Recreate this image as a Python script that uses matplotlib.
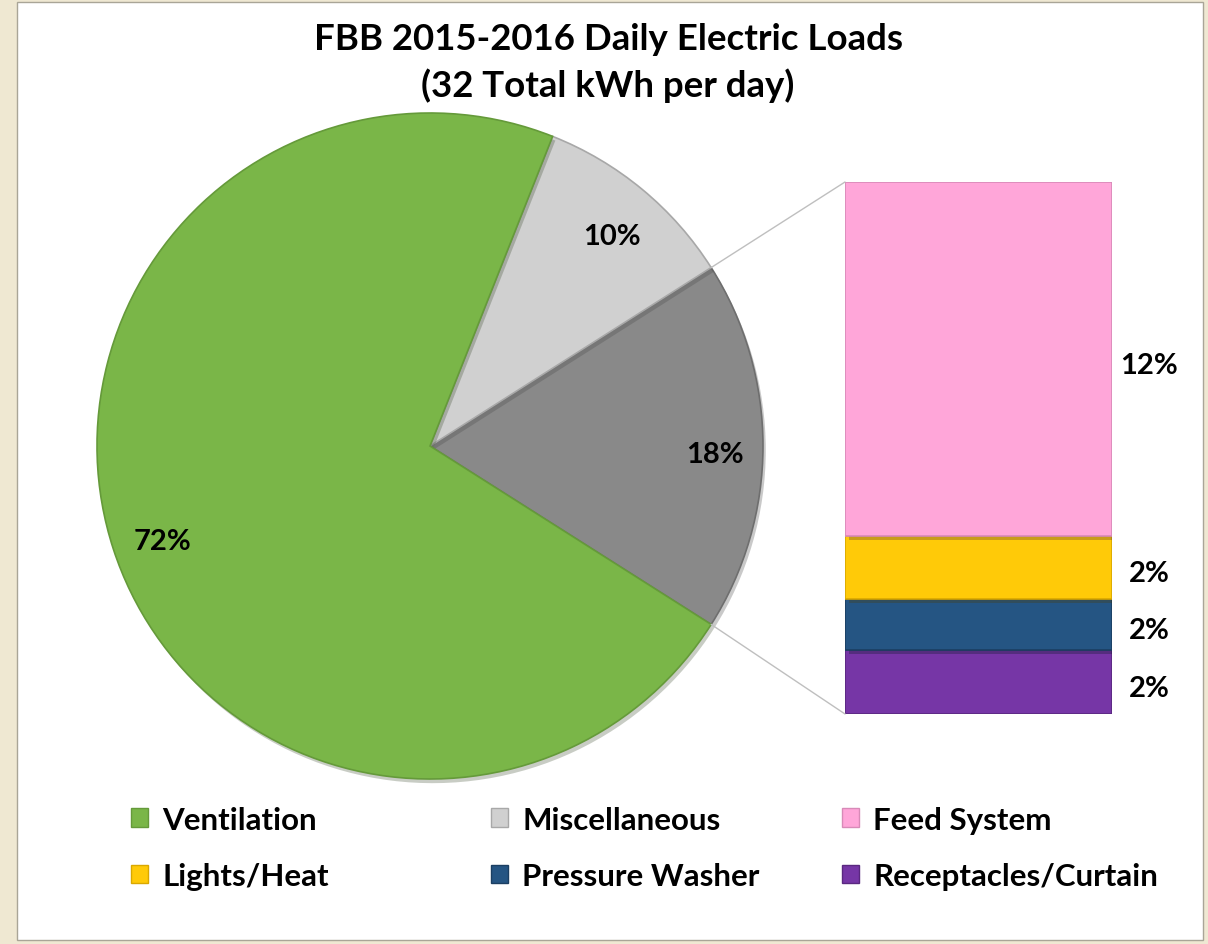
import numpy as np
import matplotlib.pyplot as plt
from matplotlib.patches import Rectangle, Patch, ConnectionPatch
import matplotlib.patheffects as pe
import matplotlib.transforms as mtrans

# pie slices (counter-clockwise from the right-hand "other" slice)
pie_labels = ["Other", "Miscellaneous", "Ventilation"]
pie_values = [18, 10, 72]
pie_colors = ["#898989", "#D0D0D0", "#7AB648"]
pie_edges = ["#6E6E6E", "#A8A8A8", "#659A3A"]
pie_text = ["18%", "10%", "72%"]

# breakdown of "Other" (bottom to top)
bar_labels = ["Receptacles/Curtain", "Pressure Washer", "Lights/Heat", "Feed System"]
bar_values = [2.16, 1.72, 2.13, 11.97]
bar_colors = ["#7636A6", "#255583", "#FFCA08", "#FFA6D9"]
bar_edges = ["#5A2880", "#1B3F62", "#D9A800", "#D88AB8"]
bar_text = ["2%", "2%", "2%", "12%"]

title = "FBB 2015-2016 Daily Electric Loads\n(32 Total kWh per day)"

plt.rcParams['font.family'] = ['Lato', 'DejaVu Sans']
plt.rcParams['font.weight'] = 'bold'

W, H = 1208, 945
fig = plt.figure(figsize=(W / 100, H / 100), dpi=100, facecolor="#EFE8D2")

# white panel
fig.patches.append(Rectangle((17 / W, 1 - 941 / H), 1186 / W, 938 / H,
                             transform=fig.transFigure, facecolor="white",
                             edgecolor="#A9A597", linewidth=1.0, zorder=-10))

# pie axes
cx, cy, r = 430, 447, 333
ax_pie = fig.add_axes([(cx - r) / W, (H - cy - r) / H, 2 * r / W, 2 * r / H])
ax_pie.patch.set_visible(False)
ang = pie_values[0] / 100 * 360
wedges, _, autotexts = ax_pie.pie(
    pie_values, colors=pie_colors, startangle=-ang / 2, counterclock=True,
    autopct=lambda p: "", pctdistance=0.85, radius=1,
    wedgeprops=dict(linewidth=1.2))
for w, ec in zip(wedges, pie_edges):
    w.set_edgecolor(ec)
    w.set_path_effects([pe.SimplePatchShadow(offset=(2, -3), alpha=0.25), pe.Normal()])
shift = mtrans.offset_copy(ax_pie.transData, fig=fig, x=2, y=-8, units='dots')
for t, s in zip(autotexts, pie_text):
    t.set_text(s)
    t.set_fontsize(21)
    t.set_fontweight('bold')
    t.set_color('black')
    t.set_transform(shift)
ax_pie.set_xlim(-1, 1)
ax_pie.set_ylim(-1, 1)
ax_pie.set_aspect('equal')
ax_pie.axis('off')

# bar axes
bx0, bx1, by0, by1 = 845, 1112, 183, 715
ax_bar = fig.add_axes([bx0 / W, (H - by1) / H, (bx1 - bx0) / W, (by1 - by0) / H])
ax_bar.patch.set_visible(False)
bottom = 0
for v, c, ec, s in zip(bar_values, bar_colors, bar_edges, bar_text):
    b = ax_bar.bar(0, v, width=1, bottom=bottom, color=c, edgecolor=ec, linewidth=1.2)
    b[0].set_path_effects([pe.SimplePatchShadow(offset=(3, -3), alpha=0.3), pe.Normal()])
    ax_bar.annotate(s, xy=(0.5, bottom + v / 2), xytext=(27, -4), textcoords='offset points',
                    ha='center', va='center', fontsize=21, fontweight='bold')
    bottom += v
ax_bar.set_xlim(-0.5, 0.5)
ax_bar.set_ylim(0, sum(bar_values))
ax_bar.axis('off')

# connector lines
theta1, theta2 = wedges[0].theta1, wedges[0].theta2
for th, yb in [(theta2, sum(bar_values)), (theta1, 0)]:
    x = np.cos(np.radians(th))
    y = np.sin(np.radians(th))
    con = ConnectionPatch(xyA=(-0.5, yb), coordsA=ax_bar.transData,
                          xyB=(x, y), coordsB=ax_pie.transData,
                          color="#BFBFBF", linewidth=1.0)
    fig.add_artist(con)

fig.text(608 / W, 1 - 63 / H, title, ha='center', va='center', fontsize=26.4,
         fontweight='bold', linespacing=1.42)

# legend: three single-column blocks, rows read Ventilation/Misc/Feed, Lights/Pressure/Receptacles
handle = {}
for l, c, ec in zip(pie_labels, pie_colors, pie_edges):
    handle[l] = Patch(facecolor=c, edgecolor=ec, label=l)
for l, c, ec in zip(bar_labels, bar_colors, bar_edges):
    handle[l] = Patch(facecolor=c, edgecolor=ec, label=l)
columns = [["Ventilation", "Lights/Heat"],
           ["Miscellaneous", "Pressure Washer"],
           ["Feed System", "Receptacles/Curtain"]]
col_x = [131, 491, 842]
for keys, x0 in zip(columns, col_x):
    fig.legend([handle[k] for k in keys], keys, loc='center left',
               bbox_to_anchor=(x0 / W, 1 - 849 / H), frameon=False, fontsize=22.5,
               handlelength=0.55, handleheight=0.55, handletextpad=0.45,
               labelspacing=0.9, borderpad=0, borderaxespad=0)

fig.savefig("out.png", dpi=100, facecolor=fig.get_facecolor())
